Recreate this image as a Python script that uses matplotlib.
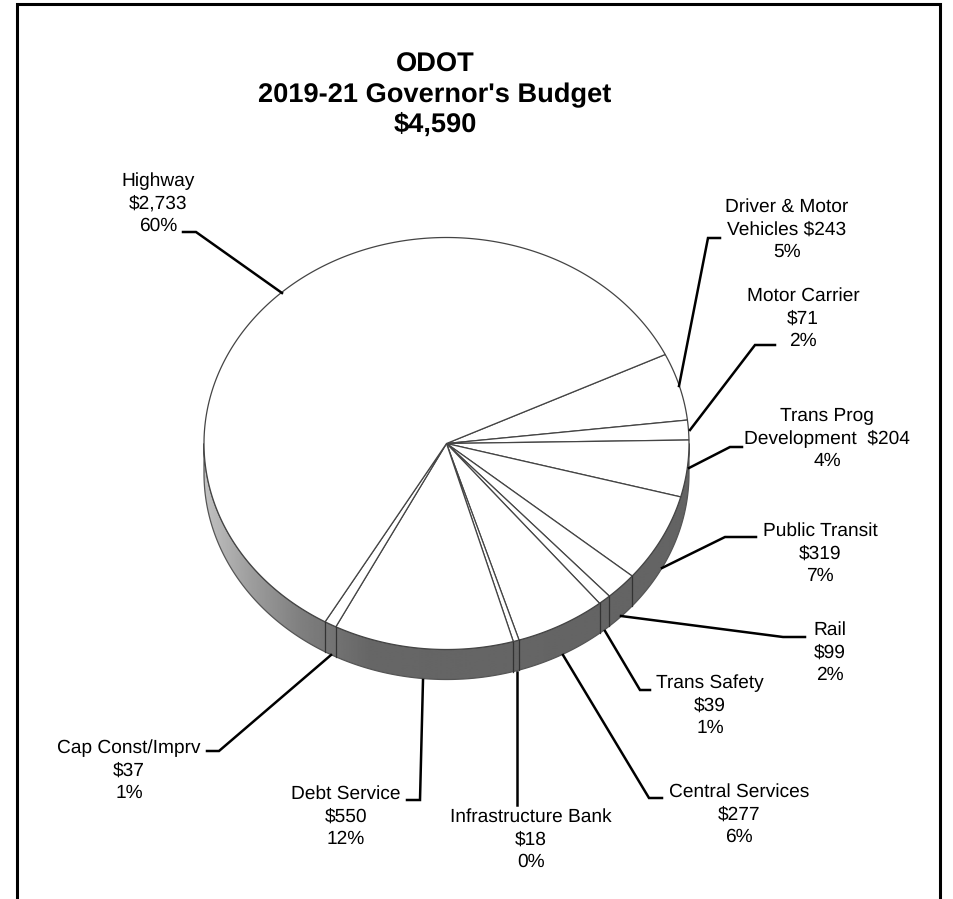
import numpy as np
import matplotlib
matplotlib.use('Agg')
import matplotlib.pyplot as plt
from matplotlib.patches import Polygon

plt.rcParams['font.family'] = ['Liberation Sans', 'DejaVu Sans']
plt.rcParams['text.hinting'] = 'none'

# budget by program, clockwise from the Driver & Motor slice
programs = ['Driver & Motor', 'Motor Carrier', 'Trans Prog', 'Public Transit', 'Rail', 'Trans Safety',
            'Central Services', 'Infrastructure Bank', 'Debt Service', 'Cap Const/Imprv', 'Highway']
amounts = [243, 71, 204, 319, 99, 39, 277, 18, 550, 37, 2733]
title_lines = ['ODOT', "2019-21 Governor's Budget", '$4,590']

label_lines = [
    ['Driver & Motor', 'Vehicles $243', '5%'],
    ['Motor Carrier', '$71', '2%'],
    ['Trans Prog', 'Development  $204', '4%'],
    ['Public Transit', '$319', '7%'],
    ['Rail', '$99', '2%'],
    ['Trans Safety', '$39', '1%'],
    ['Central Services', '$277', '6%'],
    ['Infrastructure Bank', '$18', '0%'],
    ['Debt Service', '$550', '12%'],
    ['Cap Const/Imprv', '$37', '1%'],
    ['Highway', '$2,733', '60%'],
]
# x centre and first line y of each label
label_pos = [(787, 207), (803, 296), (827, 416), (820, 531), (830, 630), (710, 683),
             (739, 792), (531, 817), (346, 794), (129, 748), (158, 181)]
leaders = [
    [(679, 386), (708, 238), (720, 238)],
    [(690, 430), (755, 345), (775, 345)],
    [(689, 468), (730, 447), (742, 447)],
    [(662, 568), (725, 537), (756, 537)],
    [(621, 616), (783, 637), (805, 637)],
    [(605, 631), (640, 690), (650, 690)],
    [(563, 655), (649, 798), (662, 798)],
    [(517, 672), (517, 805)],
    [(423, 680), (420, 800), (407, 800)],
    [(331, 655), (219, 751), (207, 751)],
    [(282, 293), (196, 232), (183, 232)],
]

cx, cy, rx, ry = 446.5, 443.5, 242.5, 206
depth = 30
start = 25.6


def rim(t, drop=0):
    r = np.radians(t)
    return np.column_stack([cx + rx * np.cos(r), cy - ry * np.sin(r) + drop])


fig = plt.figure(figsize=(9.54, 8.99), dpi=100)
ax = fig.add_axes([0, 0, 1, 1])
ax.set_xlim(0, 954)
ax.set_ylim(899, 0)
ax.axis('off')

# outer box, open along the bottom
ax.plot([17, 17, 940, 940], [899, 4, 4, 899], color='black', lw=2.2, solid_joinstyle='miter')

# side wall with its left to right shading
t_wall = np.linspace(180, 360, 300)
wall = np.vstack([rim(t_wall), rim(t_wall[::-1], depth)])
wall_patch = Polygon(wall, closed=True, fc='none', ec='#555555', lw=0.9, zorder=3)
ax.add_patch(wall_patch)
xs = np.linspace(204, 689, 486)
shade = np.interp(xs, [204, 250, 300, 370, 689], [0.76, 0.62, 0.50, 0.40, 0.39])
img = ax.imshow(shade[None, :], extent=[204, 689, cy + ry + depth, cy], cmap='gray', vmin=0, vmax=1,
                aspect='auto', zorder=2)
img.set_clip_path(wall_patch)
ax.set_xlim(0, 954)
ax.set_ylim(899, 0)

# top face slices
bounds = start - np.cumsum([0] + amounts) / sum(amounts) * 360
for a, b in zip(bounds[:-1], bounds[1:]):
    t = np.linspace(a, b, max(int(a - b) * 2, 4))
    pts = np.vstack([[cx, cy], rim(t)])
    ax.add_patch(Polygon(pts, closed=True, fc='white', ec='#444444', lw=0.9, zorder=4))

# slice boundaries carried down the wall, skipped where the wall is too thin to show one
for b in bounds[1:-1]:
    if np.sin(np.radians(b)) < -0.5:
        p = rim(np.array([b]))[0]
        ax.plot([p[0], p[0]], [p[1], p[1] + depth], color='#333333', lw=0.9, zorder=4)

for pts in leaders:
    ax.plot(*zip(*pts), color='black', lw=1.8, solid_joinstyle='miter', zorder=5)

for lines, (x, y) in zip(label_lines, label_pos):
    for i, s in enumerate(lines):
        ax.text(x, y + i * 22.5, s, ha='center', va='center', fontsize=13.8, color='black')

for i, s in enumerate(title_lines):
    ax.text(435, 65 + i * 30, s, ha='center', va='center', fontsize=19.6, fontweight='bold', color='black')

fig.savefig('out.png', dpi=100, facecolor='white')
